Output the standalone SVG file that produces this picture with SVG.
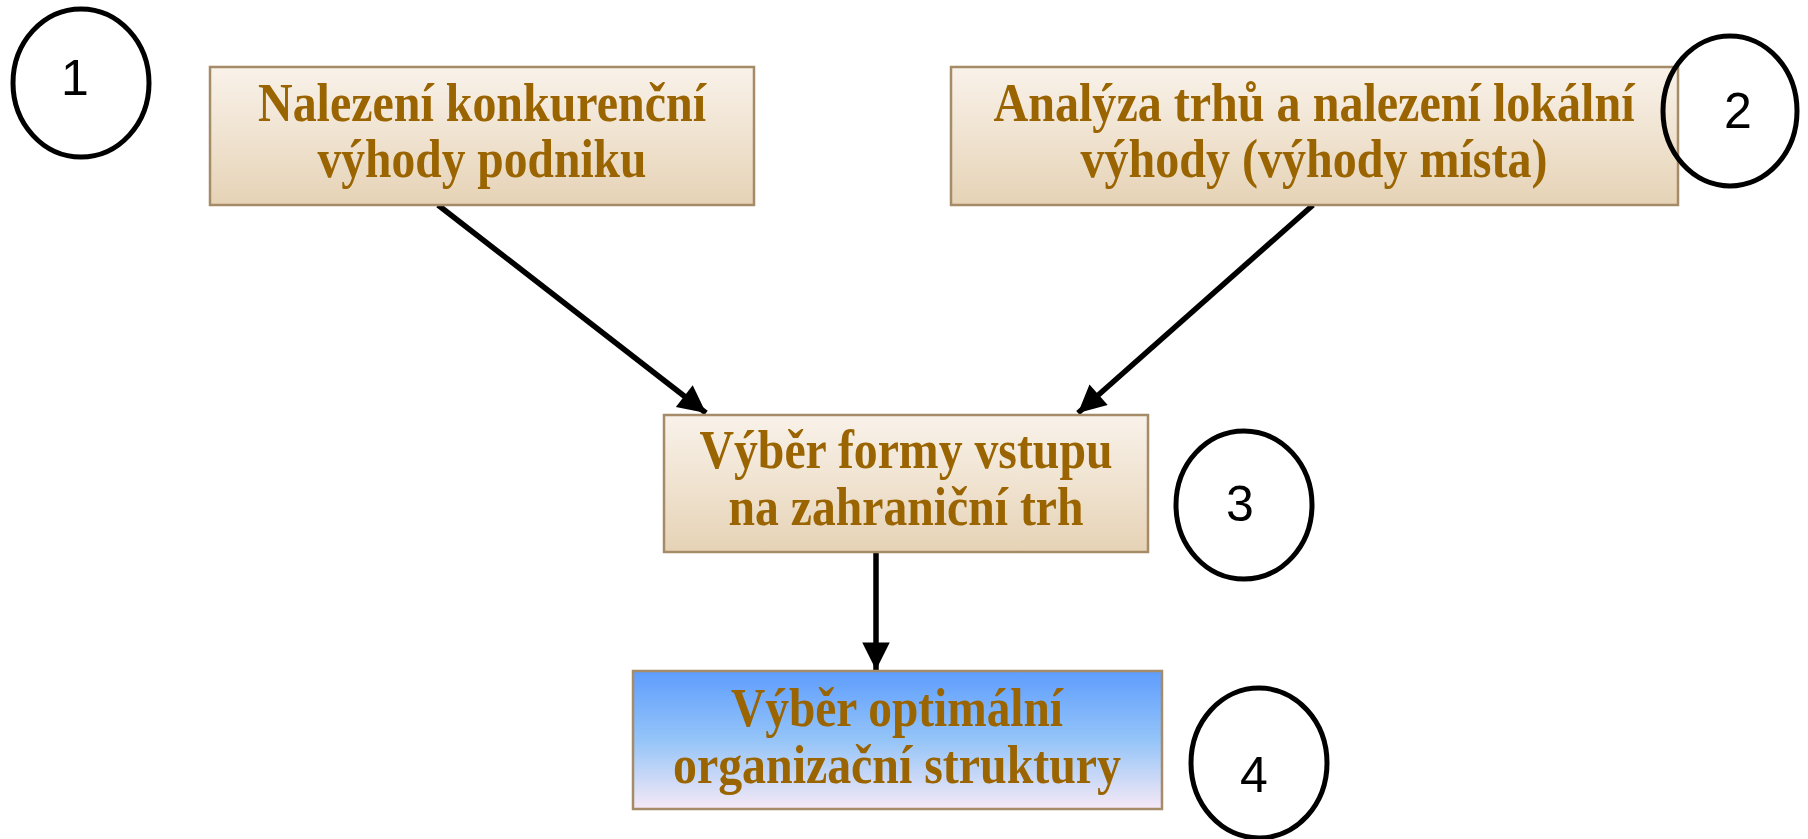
<svg xmlns="http://www.w3.org/2000/svg" width="1808" height="839" viewBox="0 0 1808 839">
<defs>
<linearGradient id="tan" x1="0" y1="0" x2="0" y2="1">
<stop offset="0" stop-color="#F9F2EA"/>
<stop offset="1" stop-color="#E6D3B6"/>
</linearGradient>
<linearGradient id="blue" x1="0" y1="0" x2="0" y2="1">
<stop offset="0" stop-color="#5E9DFD"/>
<stop offset="0.5" stop-color="#94C4F8"/>
<stop offset="1" stop-color="#F6E9F6"/>
</linearGradient>
<marker id="arr" viewBox="0 0 10 10" refX="10" refY="5" markerWidth="5.5" markerHeight="5" markerUnits="strokeWidth" orient="auto">
<path d="M0,0 L10,5 L0,10 z" fill="#000"/>
</marker>
<style>
.box{stroke:#A58B68;stroke-width:2.5}
.lbl{font-family:"Liberation Serif","Times New Roman",serif;font-weight:bold;font-size:54px;fill:#9A6500;text-anchor:middle}
.num{fill:none;stroke:#000;stroke-width:5}
.dig{font-family:"Liberation Sans",Arial,sans-serif;font-size:50px;fill:#000;text-anchor:middle}
.con{stroke:#000;stroke-width:5.5;fill:none;marker-end:url(#arr)}
</style>
</defs>
<rect width="1808" height="839" fill="#fff"/>
<g id="connectors">
<line class="con" x1="438" y1="205" x2="706" y2="413"/>
<line class="con" x1="1313" y1="205" x2="1078" y2="413"/>
<line class="con" x1="876" y1="551" x2="876" y2="670"/>
</g>
<g id="node1">
<rect class="box" x="210" y="67" width="544" height="138" fill="url(#tan)"/>
<text class="lbl" x="482" y="121" textLength="448" lengthAdjust="spacingAndGlyphs">Nalezení konkurenční</text>
<text class="lbl" x="482" y="177" textLength="329" lengthAdjust="spacingAndGlyphs">výhody podniku</text>
</g>
<g id="node2">
<rect class="box" x="951" y="67" width="727" height="138" fill="url(#tan)"/>
<text class="lbl" x="1314" y="121" textLength="641" lengthAdjust="spacingAndGlyphs">Analýza trhů a nalezení lokální</text>
<text class="lbl" x="1314" y="177" textLength="467" lengthAdjust="spacingAndGlyphs">výhody (výhody místa)</text>
</g>
<g id="node3">
<rect class="box" x="664" y="415" width="484" height="137" fill="url(#tan)"/>
<text class="lbl" x="906" y="468" textLength="413" lengthAdjust="spacingAndGlyphs">Výběr formy vstupu</text>
<text class="lbl" x="906" y="525" textLength="355" lengthAdjust="spacingAndGlyphs">na zahraniční trh</text>
</g>
<g id="node4">
<rect class="box" x="633" y="671" width="529" height="138" fill="url(#blue)"/>
<text class="lbl" x="897" y="726" textLength="332" lengthAdjust="spacingAndGlyphs">Výběr optimální</text>
<text class="lbl" x="897" y="783" textLength="448" lengthAdjust="spacingAndGlyphs">organizační struktury</text>
</g>
<g id="circle1">
<ellipse class="num" cx="81" cy="83" rx="68" ry="74"/>
<text class="dig" x="75" y="95">1</text>
</g>
<g id="circle2">
<ellipse class="num" cx="1730" cy="111" rx="67" ry="75"/>
<text class="dig" x="1738" y="128">2</text>
</g>
<g id="circle3">
<ellipse class="num" cx="1244" cy="505" rx="68" ry="74"/>
<text class="dig" x="1240" y="521">3</text>
</g>
<g id="circle4">
<ellipse class="num" cx="1259" cy="763" rx="68" ry="75"/>
<text class="dig" x="1254" y="792">4</text>
</g>
</svg>
